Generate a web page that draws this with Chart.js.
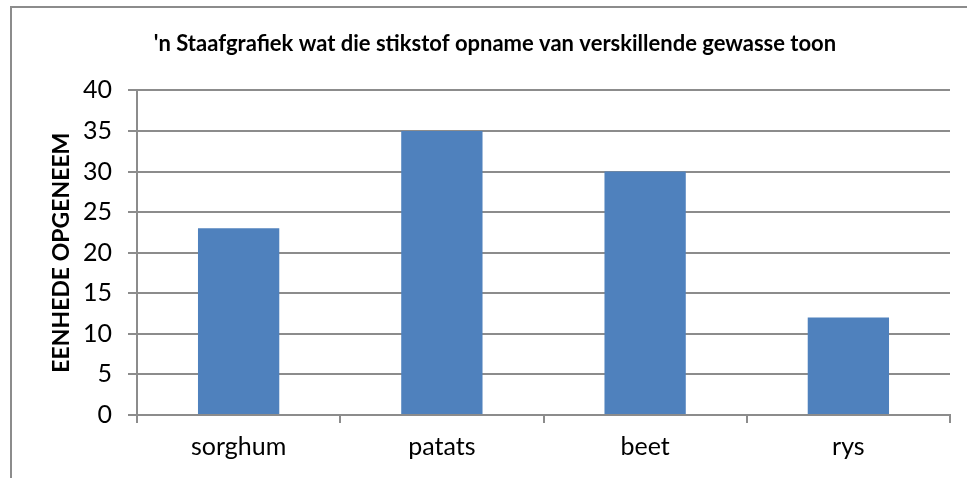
<!DOCTYPE html>
<html>
<head>
<meta charset="utf-8">
<script src="https://cdn.jsdelivr.net/npm/chart.js@4/dist/chart.umd.min.js"></script>
<style>
  html, body { margin: 0; padding: 0; background: #fff; }
  #wrap { position: relative; width: 967px; height: 478px; overflow: hidden; }
  #frame {
    position: absolute; left: 10px; top: 6px; width: 1000px; height: 500px;
    border: 2px solid #8c8c8c; box-sizing: border-box;
  }
  #chart { position: absolute; left: 0; top: 0; }
</style>
</head>
<body>
<div id="wrap">
  <div id="frame"></div>
  <canvas id="chart" width="967" height="478"></canvas>
</div>
<script>
// data
const crops = ['sorghum', 'patats', 'beet', 'rys'];
const uptake = [23, 35, 30, 12];
const yTicks = [0, 5, 10, 15, 20, 25, 30, 35, 40];

const chartTitle = "'n Staafgrafiek wat die stikstof opname van verskillende gewasse toon";
const yTitle = 'EENHEDE OPGENEEM';

const FONT = 'Lato, "Open Sans", sans-serif';
const GRID = '#8c8c8c';

const ctx = document.getElementById('chart').getContext('2d');

new Chart(ctx, {
  type: 'bar',
  data: {
    labels: crops,
    datasets: [{
      label: 'opname',
      data: uptake,
      backgroundColor: '#4f81bd',
      borderWidth: 0,
      barPercentage: 0.4,
      categoryPercentage: 1.0
    }]
  },
  options: {
    responsive: false,
    animation: false,
    devicePixelRatio: 1,
    layout: { padding: { left: 40, right: 17, top: 0, bottom: 0 } },
    plugins: {
      legend: { display: false },
      tooltip: { enabled: false },
      title: {
        display: true,
        text: chartTitle,
        color: '#000',
        font: { family: FONT, size: 22, weight: 'bold' },
        padding: { top: 31, bottom: 33 }
      }
    },
    scales: {
      x: {
        offset: true,
        grid: {
          offset: true,
          drawOnChartArea: false,
          drawTicks: true,
          tickLength: 8,
          color: GRID,
          lineWidth: 2
        },
        border: { color: GRID, width: 2 },
        ticks: {
          color: '#000',
          font: { family: FONT, size: 25 },
          padding: 9
        },
        afterFit: (scale) => { scale.height = 63; }
      },
      y: {
        min: 0,
        max: 40,
        afterBuildTicks: (scale) => { scale.ticks = yTicks.map(v => ({ value: v })); },
        grid: {
          color: GRID,
          lineWidth: 2,
          tickLength: 9
        },
        border: { color: GRID, width: 2 },
        ticks: {
          color: '#000',
          font: { family: FONT, size: 25 },
          padding: 16
        },
        title: {
          display: true,
          text: yTitle,
          color: '#000',
          font: { family: FONT, size: 23, weight: 'bold' },
          padding: { top: 8, bottom: 0 }
        },
        afterFit: (scale) => { scale.width = 97; }
      }
    }
  }
});
</script>
</body>
</html>
